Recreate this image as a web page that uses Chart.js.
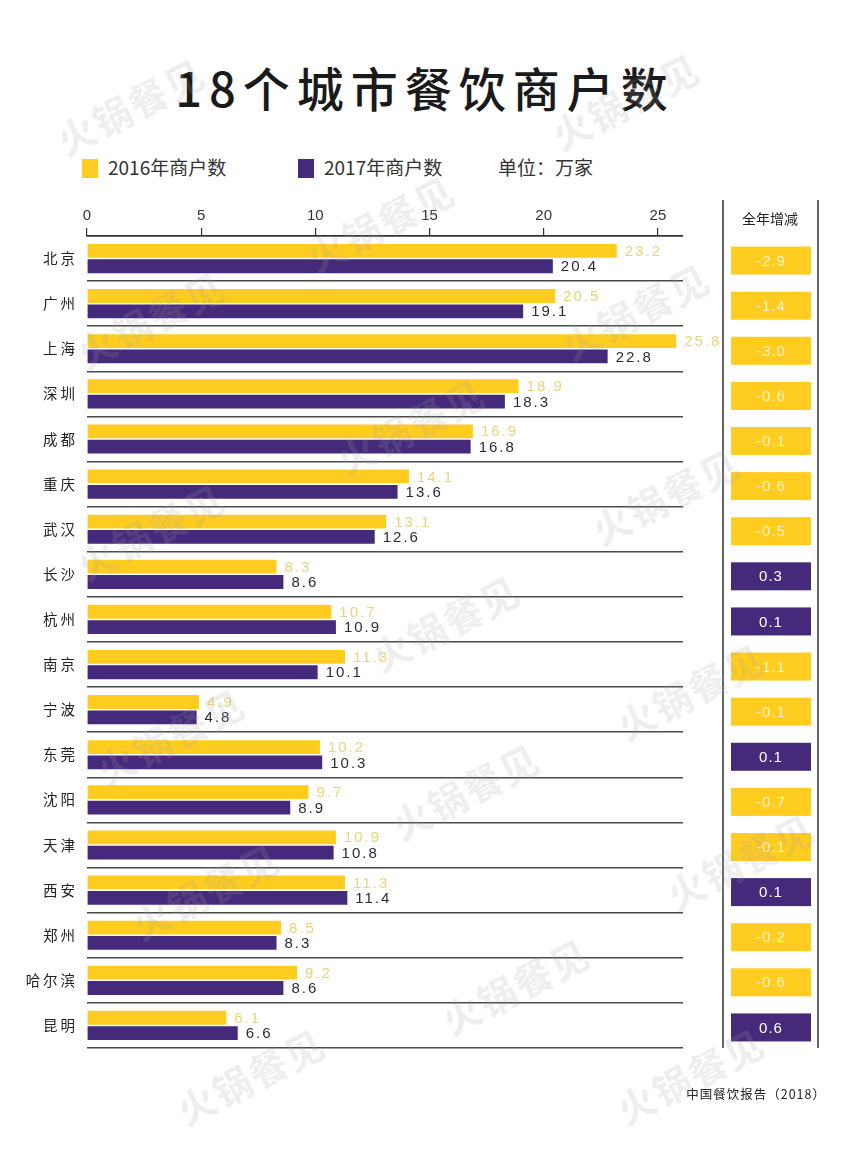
<!DOCTYPE html>
<html>
<head>
<meta charset="utf-8">
<script src="https://cdn.jsdelivr.net/npm/chart.js@4.4.0/dist/chart.umd.min.js"></script>
<style>
  body { margin: 0; background: #fff; }
  #wrap { position: relative; width: 850px; height: 1152px; overflow: hidden; font-family: "Noto Sans CJK SC", "Noto Sans", sans-serif; color: #222; }
  #chart { position: absolute; left: 0; top: 0; }
  .title { position: absolute; top: 52px; left: 0; width: 850px; text-align: center; font-size: 47px; letter-spacing: 7px; font-weight: 500; color: #1a1a1a; }
  .legend { position: absolute; top: 154px; font-size: 19px; color: #333; line-height: 26px; }
  .legend i { display: inline-block; width: 16px; height: 19px; vertical-align: -3px; margin-right: 10px; }
  .source { position: absolute; right: 24px; top: 1084px; font-size: 12.5px; letter-spacing: 1px; color: #222; }
  .wm { position: absolute; font-size: 38px; font-weight: 700; color: rgba(160,160,160,0.18); transform: translate(-50%,-50%) rotate(-27deg); white-space: nowrap; letter-spacing: 2px; pointer-events: none; }
</style>
</head>
<body>
<div id="wrap">
  <div class="title">18个城市餐饮商户数</div>
  <div class="legend" style="left:82px"><i style="background:#ffcc1f"></i>2016年商户数</div>
  <div class="legend" style="left:298px"><i style="background:#45297a"></i>2017年商户数</div>
  <div class="legend" style="left:498px">单位：万家</div>
  <canvas id="chart" width="850" height="1152"></canvas>
  <div class="source">中国餐饮报告（2018）</div>
</div>
<script>
const cities = ['北京', '广州', '上海', '深圳', '成都', '重庆', '武汉', '长沙', '杭州', '南京', '宁波', '东莞', '沈阳', '天津', '西安', '郑州', '哈尔滨', '昆明'];
const merchants2016 = [23.2, 20.5, 25.8, 18.9, 16.9, 14.1, 13.1, 8.3, 10.7, 11.3, 4.9, 10.2, 9.7, 10.9, 11.3, 8.5, 9.2, 6.1];
const merchants2017 = [20.4, 19.1, 22.8, 18.3, 16.8, 13.6, 12.6, 8.6, 10.9, 10.1, 4.8, 10.3, 8.9, 10.8, 11.4, 8.3, 8.6, 6.6];
const yearChange = [-2.9, -1.4, -3.0, -0.6, -0.1, -0.6, -0.5, 0.3, 0.1, -1.1, -0.1, 0.1, -0.7, -0.1, 0.1, -0.2, -0.6, 0.6];
const xTicks = [0, 5, 10, 15, 20, 25];

const YELLOW = '#ffcc1f';
const PURPLE = '#45297a';

// watermarks, like the original image
const marks = [[130,105],[625,100],[380,222],[150,318],[635,310],[410,425],[665,495],[150,530],[445,622],[690,690],[170,735],[465,790],[740,860],[205,890],[515,985],[250,1075],[690,1075]];
const wrap = document.getElementById('wrap');
marks.forEach(m => {
    const d = document.createElement('div');
    d.className = 'wm';
    d.textContent = '火锅餐见';
    d.style.left = m[0] + 'px';
    d.style.top = m[1] + 'px';
    wrap.appendChild(d);
});

// value labels at the end of each bar
const valueLabels = {
    id: 'valueLabels',
    afterDatasetsDraw(chart) {
        const ctx = chart.ctx;
        ctx.save();
        ctx.font = '15px "Liberation Sans", sans-serif';
        ctx.letterSpacing = '2px';
        ctx.textAlign = 'left';
        ctx.textBaseline = 'middle';
        chart.data.datasets.forEach((ds, di) => {
            const meta = chart.getDatasetMeta(di);
            ctx.fillStyle = di === 0 ? '#e8d47c' : '#2b2b3b';
            meta.data.forEach((bar, i) => {
                ctx.fillText(ds.data[i].toFixed(1), bar.x + 8, bar.y + 1);
            });
        });
        ctx.restore();
    }
};

// right column: yearly change boxes
const changeColumn = {
    id: 'changeColumn',
    afterDraw(chart) {
        const ctx = chart.ctx;
        const y = chart.scales.y;
        const bottom = chart.chartArea.bottom;
        ctx.save();
        ctx.strokeStyle = '#333';
        ctx.lineWidth = 1.5;
        [723, 818].forEach(x => {
            ctx.beginPath();
            ctx.moveTo(x, 200);
            ctx.lineTo(x, bottom);
            ctx.stroke();
        });
        ctx.fillStyle = '#222';
        ctx.font = '14px "Noto Sans CJK SC", sans-serif';
        ctx.textAlign = 'center';
        ctx.textBaseline = 'middle';
        ctx.fillText('全年增减', 770, 219);

        ctx.font = '15px "Liberation Sans", sans-serif';
        ctx.letterSpacing = '1px';
        yearChange.forEach((v, i) => {
            const cy = y.getPixelForValue(i) + 2;
            ctx.fillStyle = v < 0 ? YELLOW : PURPLE;
            ctx.fillRect(731, cy - 14, 80, 28);
            ctx.fillStyle = v < 0 ? '#fff4c8' : '#ffffff';
            ctx.fillText(v.toFixed(1), 771, cy + 1);
        });
        ctx.restore();
    }
};

new Chart(document.getElementById('chart'), {
    type: 'bar',
    data: {
        labels: cities,
        datasets: [
            {
                label: '2016年商户数',
                data: merchants2016,
                backgroundColor: YELLOW,
                categoryPercentage: 0.68,
                barPercentage: 0.9
            },
            {
                label: '2017年商户数',
                data: merchants2017,
                backgroundColor: PURPLE,
                categoryPercentage: 0.68,
                barPercentage: 0.9
            }
        ]
    },
    options: {
        indexAxis: 'y',
        responsive: false,
        animation: false,
        devicePixelRatio: 1,
        layout: {
            padding: { top: 206, left: 0, right: 167, bottom: 104 }
        },
        plugins: {
            legend: { display: false },
            tooltip: { enabled: false }
        },
        scales: {
            x: {
                position: 'top',
                min: 0,
                max: 26.1,
                afterFit: s => { s.height = 30; },
                afterBuildTicks: s => { s.ticks = xTicks.map(v => ({ value: v })); },
                border: { display: true, color: '#333', width: 1.5 },
                grid: { drawOnChartArea: false, drawTicks: true, tickLength: 8, color: '#333', lineWidth: 1.2 },
                ticks: {
                    color: '#333',
                    padding: 3,
                    font: { family: '"Liberation Sans Narrow", "Liberation Sans", sans-serif', size: 15 }
                }
            },
            y: {
                afterFit: s => { s.width = 87; },
                border: { display: false },
                grid: { offset: true, drawTicks: false, color: '#4a4a4a', lineWidth: 1.5 },
                ticks: {
                    color: '#222',
                    padding: 12,
                    callback: function(value) {
                        return this.getLabelForValue(value).split('').join('\u2009');
                    },
                    font: { family: '"Noto Sans CJK SC", sans-serif', size: 14.5 }
                }
            }
        }
    },
    plugins: [valueLabels, changeColumn]
});
</script>
</body>
</html>
